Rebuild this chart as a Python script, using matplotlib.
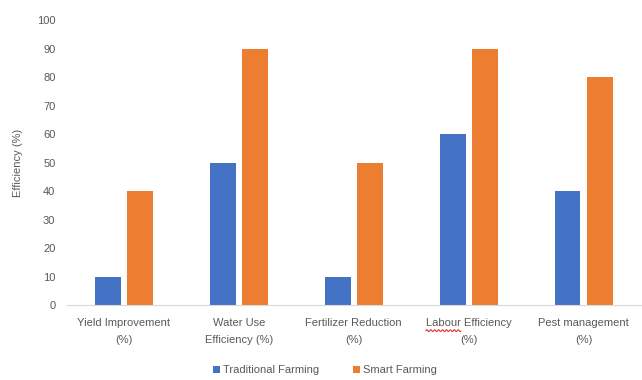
import matplotlib
matplotlib.use("Agg")
import matplotlib.pyplot as plt
import numpy as np

plt.rcParams['font.family'] = ['Liberation Sans', 'DejaVu Sans']

categories = ["Yield Improvement\n(%)", "Water Use\nEfficiency (%)",
              "Fertilizer Reduction\n(%)", "Labour Efficiency\n(%)",
              "Pest management\n(%)"]
traditional = [10, 50, 10, 60, 40]
smart = [40, 90, 50, 90, 80]

blue = "#4472C4"
orange = "#ED7D31"
grey = "#595959"

fig = plt.figure(figsize=(6.42, 3.80), dpi=100)
ax = fig.add_axes([0.1036, 0.197, 0.895, 0.75])

x = np.arange(len(categories))
w = 0.225
ax.bar(x - 0.14, traditional, w, color=blue, label="Traditional Farming")
ax.bar(x + 0.14, smart, w, color=orange, label="Smart Farming")

ax.set_xlim(-0.5, len(categories) - 0.5)
ax.set_ylim(0, 100)
ax.set_yticks(range(0, 101, 10))
ax.set_xticks(x)
ax.set_xticklabels(categories, fontsize=8, color=grey, linespacing=1.9)
ax.tick_params(axis='y', labelsize=8, labelcolor=grey, length=0, pad=8)
ax.tick_params(axis='x', length=0, pad=9)
for s in ["top", "right", "left"]:
    ax.spines[s].set_visible(False)
ax.spines["bottom"].set_color("#D9D9D9")
ax.set_ylabel("Efficiency (%)", fontsize=8, color=grey, labelpad=10)

ax.legend(loc="center", bbox_to_anchor=(0.45, -0.228), ncol=2, frameon=False,
          fontsize=8, labelcolor=grey, handlelength=0.6, handleheight=0.6,
          handletextpad=0.3, columnspacing=3.0)

# spell-check squiggle under "Labour"
fig.canvas.draw()
r = fig.canvas.get_renderer()
lab = ax.get_xticklabels()[3]
bb = lab.get_window_extent(r)
probe = fig.text(0, 0, "Labour", fontsize=8)
pw = probe.get_window_extent(r).width
probe.remove()
full = fig.text(0, 0, "Labour Efficiency", fontsize=8)
fw = full.get_window_extent(r).width
full.remove()
x0 = bb.x0 + (bb.width - fw) / 2
xs = np.linspace(x0, x0 + pw, 40)
ys = bb.y1 - 13 + 1.0 * np.sin((xs - x0) * 1.6)
fig.add_artist(plt.Line2D(xs / fig.bbox.width, ys / fig.bbox.height,
                          color="#E03030", lw=0.8))

fig.savefig("out.png", dpi=100)
